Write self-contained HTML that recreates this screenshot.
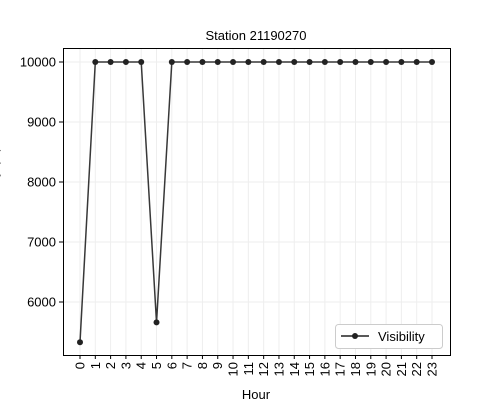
<!DOCTYPE html>
<html><head><meta charset="utf-8"><style>body{margin:0;background:#fff}svg{display:block;font-family:"Liberation Sans","DejaVu Sans",sans-serif}</style></head>
<body>
<svg id="chart" width="500" height="400" viewBox="0 0 500 400" xmlns="http://www.w3.org/2000/svg">
<rect width="500" height="400" fill="#fff"/>
<text x="256" y="40" font-size="13" text-anchor="middle">Station 21190270</text>
<g id="grid"></g>
<g id="yticks"></g>
<g id="xticks"></g>
<g id="series"></g>
<rect x="63.5" y="48.5" width="387" height="307" fill="none" stroke="#000" stroke-width="1"/>
<text x="256" y="399" font-size="13" text-anchor="middle">Hour</text>
<text transform="translate(-2,182) rotate(-90)" font-size="13" text-anchor="middle">Visibility (m)</text>
<g>
<rect x="335.5" y="324.5" width="107" height="24" rx="3" fill="#fff" stroke="#ccc"/>
<line x1="341" y1="336" x2="369" y2="336" stroke="#222" stroke-width="1.5"/>
<circle cx="355" cy="336" r="3" fill="#222"/>
<text x="378" y="341" font-size="13">Visibility</text>
</g>
</svg>
<script>
const hours = [0,1,2,3,4,5,6,7,8,9,10,11,12,13,14,15,16,17,18,19,20,21,22,23];
const visibility = [5330,10000,10000,10000,10000,5660,10000,10000,10000,10000,10000,10000,10000,10000,10000,10000,10000,10000,10000,10000,10000,10000,10000,10000];
const yTickValues = [6000,7000,8000,9000,10000];
const NS='http://www.w3.org/2000/svg';
const xs = h => 80 + h*(432-80)/23;
const ys = v => 62 + (10000 - v)*0.06;
function mk(tag, attrs, parent){const e=document.createElementNS(NS,tag);for(const k in attrs)e.setAttribute(k,attrs[k]);parent.appendChild(e);return e;}
const grid=document.getElementById('grid'), yt=document.getElementById('yticks'), xt=document.getElementById('xticks'), se=document.getElementById('series');
yTickValues.forEach(v=>{
  const y=ys(v);
  const g=mk('line',{x1:63,x2:450,y1:y,y2:y,stroke:'#eee','stroke-width':1},grid);
  
  
  mk('line',{x1:59,x2:63,y1:y,y2:y,stroke:'#000'},yt);
  const t=mk('text',{x:56,y:y+4.5,'font-size':13,'text-anchor':'end'},yt);
  t.textContent=v;
  
  
});
hours.forEach(h=>{
  const x=xs(h);
  const g=mk('line',{x1:x,x2:x,y1:48,y2:355,stroke:'#eee','stroke-width':1},grid);
  
  
  mk('line',{x1:x,x2:x,y1:355,y2:359,stroke:'#000'},xt);
  const t=mk('text',{transform:`translate(${x+4.5},362) rotate(-90)`,'font-size':13,'text-anchor':'end'},xt);
  t.textContent=h;
  
  
});
const pts=hours.map((h,i)=>xs(h)+','+ys(visibility[i])).join(' ');
const pl=mk('polyline',{points:pts,fill:'none',stroke:'#222','stroke-width':1.5,opacity:0.9},se);


hours.forEach((h,i)=>{
  const c=mk('circle',{cx:xs(h),cy:ys(visibility[i]),r:3,fill:'#222'},se);
  
  
});
</script>
</body></html>
